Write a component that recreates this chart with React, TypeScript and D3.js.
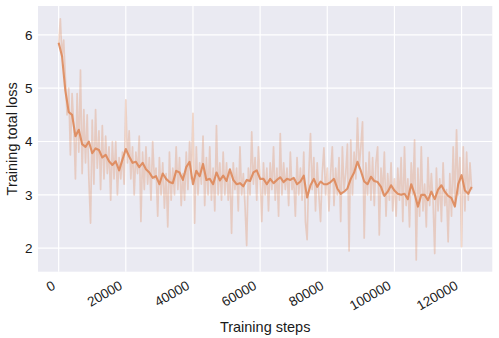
import React, { useEffect } from "react";
import * as d3 from "d3";

const width = 499;
const height = 338;
const margin = { top: 6, right: 6.7, bottom: 66.3, left: 38 };
const bg = "#EAEAF2";
const orange = "#DD8452";

// raw loss, one value every 500 steps
const rawStep = 500;
const rawLoss = [
  5.8, 6.3, 5.6, 5.9, 5.2, 4.5, 5.0, 3.75, 4.9, 4.3,
  3.3, 4.9, 3.8, 5.34, 3.4, 4.6, 3.6, 4.5, 3.3, 2.47,
  4.4, 3.2, 4.6, 3.5, 4.2, 3.1, 4.3, 3.3, 4.1, 3.4,
  3.9, 2.9, 4.0, 3.3, 4.0, 3.0, 3.7, 3.3, 3.8, 3.2,
  4.78, 3.6, 4.2, 3.3, 3.9, 3.0, 3.8, 3.4, 4.1, 2.5,
  3.8, 3.1, 3.9, 3.2, 3.7, 2.9, 4.0, 3.3, 3.5, 2.6,
  3.7, 3.0, 3.6, 2.75, 3.4, 2.4, 3.8, 2.9, 3.5, 3.0,
  3.9, 3.1, 3.7, 2.8, 3.4, 2.9, 3.8, 3.1, 4.0, 3.3,
  4.53, 2.47, 3.9, 3.0, 3.6, 3.2, 4.1, 2.8, 3.7, 3.0,
  3.9, 2.9, 3.5, 2.7, 4.3, 3.0, 3.6, 2.9, 3.8, 3.0,
  3.6, 2.9, 3.4, 2.28, 3.6, 3.1, 3.5, 2.7, 3.9, 3.0,
  3.4, 2.8, 2.05, 3.5, 3.0, 4.18, 3.2, 3.7, 2.9, 3.9,
  3.3, 2.5, 3.6, 3.0, 3.5, 2.7, 3.6, 3.1, 3.9, 2.9,
  3.5, 2.6, 4.15, 3.0, 3.6, 3.1, 3.5, 2.8, 3.8, 3.1,
  3.3, 2.6, 3.7, 3.0, 3.5, 2.9, 3.8, 2.5, 2.16, 3.4,
  4.15, 3.1, 3.7, 2.7, 3.6, 3.0, 2.5, 3.4, 3.88, 3.0,
  3.5, 2.7, 3.4, 3.9, 2.8, 3.5, 3.0, 3.7, 2.5, 3.9,
  3.1, 3.4, 3.95, 1.95, 4.03, 3.0, 3.8, 3.3, 4.44, 3.5,
  3.9, 4.37, 2.19, 3.6, 3.0, 3.8, 2.9, 3.7, 2.8, 3.6,
  3.9, 2.25, 3.5, 3.0, 3.8, 2.6, 3.4, 2.9, 3.6, 2.7,
  3.3, 2.6, 3.5, 2.9, 3.7, 2.5, 3.9, 2.8, 3.3, 2.4,
  3.6, 3.0, 4.03, 1.78, 3.5, 2.6, 3.9, 2.7, 3.2, 2.4,
  3.7, 2.8, 3.4, 2.9, 1.9, 3.5, 2.7, 3.3, 2.5, 3.6,
  2.8, 3.1, 2.12, 3.4, 2.6, 3.9, 2.8, 4.22, 3.0, 3.7,
  2.03, 3.9, 2.7, 3.8, 2.9, 3.6, 3.1,
];

// smoothed loss, one value every 1000 steps
const smoothStep = 1000;
const smoothLoss = [
  5.85, 5.6, 4.95, 4.55, 4.5, 4.1, 4.22, 3.95, 3.9, 4.0,
  3.78, 3.87, 3.84, 3.7, 3.75, 3.63, 3.56, 3.63, 3.46, 3.66,
  3.86, 3.72, 3.6, 3.62, 3.52, 3.6, 3.48, 3.42, 3.32, 3.35,
  3.2, 3.4, 3.3, 3.24, 3.22, 3.45, 3.42, 3.28, 3.52, 3.62,
  3.2, 3.45, 3.35, 3.58, 3.28, 3.3, 3.2, 3.42, 3.27, 3.36,
  3.26, 3.48, 3.28, 3.2, 3.22, 3.16, 3.28, 3.26, 3.42, 3.46,
  3.3, 3.3, 3.2, 3.3, 3.22, 3.28, 3.33, 3.24, 3.3, 3.28,
  3.32, 3.2, 3.25, 3.36, 2.95, 3.18, 3.3, 3.15, 3.25, 3.2,
  3.2, 3.24, 3.3, 3.12, 3.02, 3.06, 3.12, 3.3, 3.42, 3.62,
  3.45, 3.25, 3.2, 3.34, 3.26, 3.24, 3.15, 2.98, 3.06, 3.18,
  3.08, 3.02, 3.0, 3.02, 2.92, 3.2, 3.02, 2.78, 3.0, 3.0,
  2.9, 3.06, 2.92, 3.1, 3.18, 3.06, 2.98, 2.94, 2.78, 3.2,
  3.37, 3.08, 3.02, 3.15,
];

const xTicks = [0, 20000, 40000, 60000, 80000, 100000, 120000];
const yTicks = [2, 3, 4, 5, 6];

const font = "Liberation Sans, Arial, sans-serif";
const textColor = "#1a1a1a";

export default function App() {
  useEffect(() => {
    document.body.style.margin = "0";
  }, []);

  const x = d3
    .scaleLinear()
    .domain([-6150, 129150])
    .range([margin.left, width - margin.right]);
  const y = d3
    .scaleLinear()
    .domain([1.56, 6.54])
    .range([height - margin.bottom, margin.top]);

  const line = d3
    .line<[number, number]>()
    .x(d => x(d[0]))
    .y(d => y(d[1]));

  const rawPath = line(rawLoss.map((v, i) => [i * rawStep, v]));
  const smoothPath = line(smoothLoss.map((v, i) => [i * smoothStep, v]));

  const plotBottom = height - margin.bottom;

  return (
    <svg width={width} height={height} style={{ display: "block" }}>
      <rect
        x={margin.left}
        y={margin.top}
        width={width - margin.left - margin.right}
        height={plotBottom - margin.top}
        fill={bg}
      />
      {/* grid */}
      {xTicks.map(t => (
        <line
          key={"gx" + t}
          x1={x(t)}
          x2={x(t)}
          y1={margin.top}
          y2={plotBottom}
          stroke="white"
          strokeWidth={1.2}
        />
      ))}
      {yTicks.map(t => (
        <line
          key={"gy" + t}
          x1={margin.left}
          x2={width - margin.right}
          y1={y(t)}
          y2={y(t)}
          stroke="white"
          strokeWidth={1.2}
        />
      ))}
      <path
        d={rawPath}
        fill="none"
        stroke={orange}
        strokeOpacity={0.3}
        strokeWidth={1.7}
        strokeLinejoin="round"
      />
      <path
        d={smoothPath}
        fill="none"
        stroke={orange}
        strokeOpacity={0.85}
        strokeWidth={2.1}
        strokeLinejoin="round"
      />
      {/* tick labels */}
      {yTicks.map(t => (
        <text
          key={"ly" + t}
          x={margin.left - 5.5}
          y={y(t)}
          dy="0.36em"
          textAnchor="end"
          fontFamily={font}
          fontSize={13.5}
          fill={textColor}
        >
          {t}
        </text>
      ))}
      {xTicks.map(t => (
        <text
          key={"lx" + t}
          transform={`translate(${x(t) - 2.5},${plotBottom + 16.5}) rotate(-30)`}
          textAnchor="end"
          fontFamily={font}
          fontSize={13.5}
          fill={textColor}
        >
          {t}
        </text>
      ))}
      <text
        x={(margin.left + width - margin.right) / 2}
        y={332}
        textAnchor="middle"
        fontFamily={font}
        fontSize={14.5}
        fill={textColor}
      >
        Training steps
      </text>
      <text
        transform={`translate(17,${(margin.top + plotBottom) / 2}) rotate(-90)`}
        textAnchor="middle"
        fontFamily={font}
        fontSize={14.5}
        fill={textColor}
      >
        Training total loss
      </text>
    </svg>
  );
}
